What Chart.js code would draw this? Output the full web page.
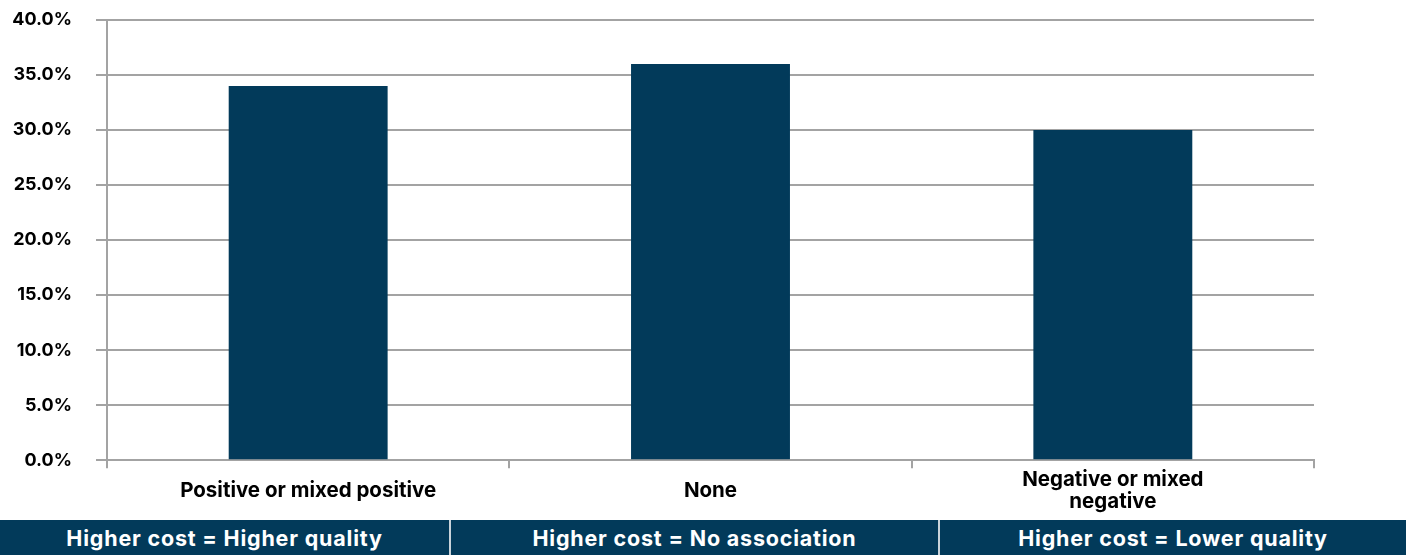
<!DOCTYPE html>
<html>
<head>
<meta charset="utf-8">
<script src="https://cdn.jsdelivr.net/npm/chart.js@4.4.1/dist/chart.umd.min.js"></script>
<style>
    html, body {
        margin: 0;
        padding: 0;
        background: #ffffff;
        width: 1416px;
        height: 555px;
        overflow: hidden;
        font-family: Inter, "Liberation Sans", Arial, sans-serif;
    }
    #wrap {
        position: relative;
        width: 1416px;
        height: 536px;
    }
    .bands {
        position: absolute;
        top: 520px;
        left: 0;
        height: 35px;
        width: 1406px;
        display: flex;
    }
    .band {
        background: #023a5a;
        color: #ffffff;
        font-weight: bold;
        font-size: 21.5px;
        letter-spacing: 0.8px;
        line-height: 36px;
        text-align: center;
        border-left: 2px solid #c9d3da;
        box-sizing: border-box;
        white-space: nowrap;
    }
    .band:first-child { border-left: none; }
</style>
</head>
<body>
<div id="wrap">
    <canvas id="costChart"></canvas>
</div>
<div class="bands" id="bands"></div>

<script>
const categories = ['Positive or mixed positive', 'None', ['Negative or mixed', 'negative']];
const shares = [34.0, 36.0, 30.0];
const bandLabels = ['Higher cost = Higher quality', 'Higher cost = No association', 'Higher cost = Lower quality'];
const bandWidths = [449, 489, 468];

const navy = '#023a5a';
const gridGray = '#a3a3a3';

// Category bands under the axis
const bands = document.getElementById('bands');
bandLabels.forEach((text, i) => {
    const div = document.createElement('div');
    div.className = 'band';
    div.style.width = bandWidths[i] + 'px';
    div.textContent = text;
    bands.appendChild(div);
});

const canvas = document.getElementById('costChart');
canvas.width = 1416;
canvas.height = 536;

Chart.defaults.font.family = 'Inter, "Liberation Sans", Arial, sans-serif';
Chart.defaults.color = '#000000';

const costChart = new Chart(canvas.getContext('2d'), {
    type: 'bar',
    data: {
        labels: categories,
        datasets: [{
            label: 'Share of studies',
            data: shares,
            backgroundColor: navy,
            borderWidth: 0,
            barPercentage: 0.395,
            categoryPercentage: 1.0
        }]
    },
    options: {
        responsive: false,
        animation: false,
        layout: {
            padding: { left: 0, right: 102, top: 20, bottom: 0 }
        },
        plugins: {
            legend: { display: false },
            tooltip: { enabled: false }
        },
        scales: {
            x: {
                grid: {
                    offset: true,
                    drawOnChartArea: false,
                    drawTicks: true,
                    tickLength: 8,
                    color: gridGray,
                    lineWidth: 2
                },
                border: { color: gridGray, width: 2 },
                ticks: {
                    maxRotation: 0,
                    autoSkip: false,
                    padding: 12,
                    crossAlign: 'center',
                    font: { size: 20.5, weight: 'bold', lineHeight: 1.07 }
                }
            },
            y: {
                min: 0,
                max: 40,
                // fixed axis width; tick padding shouldn't push the plot down
                afterFit: axis => {
                    axis.width = 107;
                    axis.paddingTop = 0;
                    axis.paddingBottom = 0;
                },
                grid: {
                    color: gridGray,
                    lineWidth: 2,
                    tickLength: 11
                },
                border: { color: gridGray, width: 2 },
                ticks: {
                    stepSize: 5,
                    padding: 24,
                    font: { size: 18, weight: 'bold' },
                    callback: v => v.toFixed(1) + '%'
                }
            }
        }
    }
});
</script>
</body>
</html>
